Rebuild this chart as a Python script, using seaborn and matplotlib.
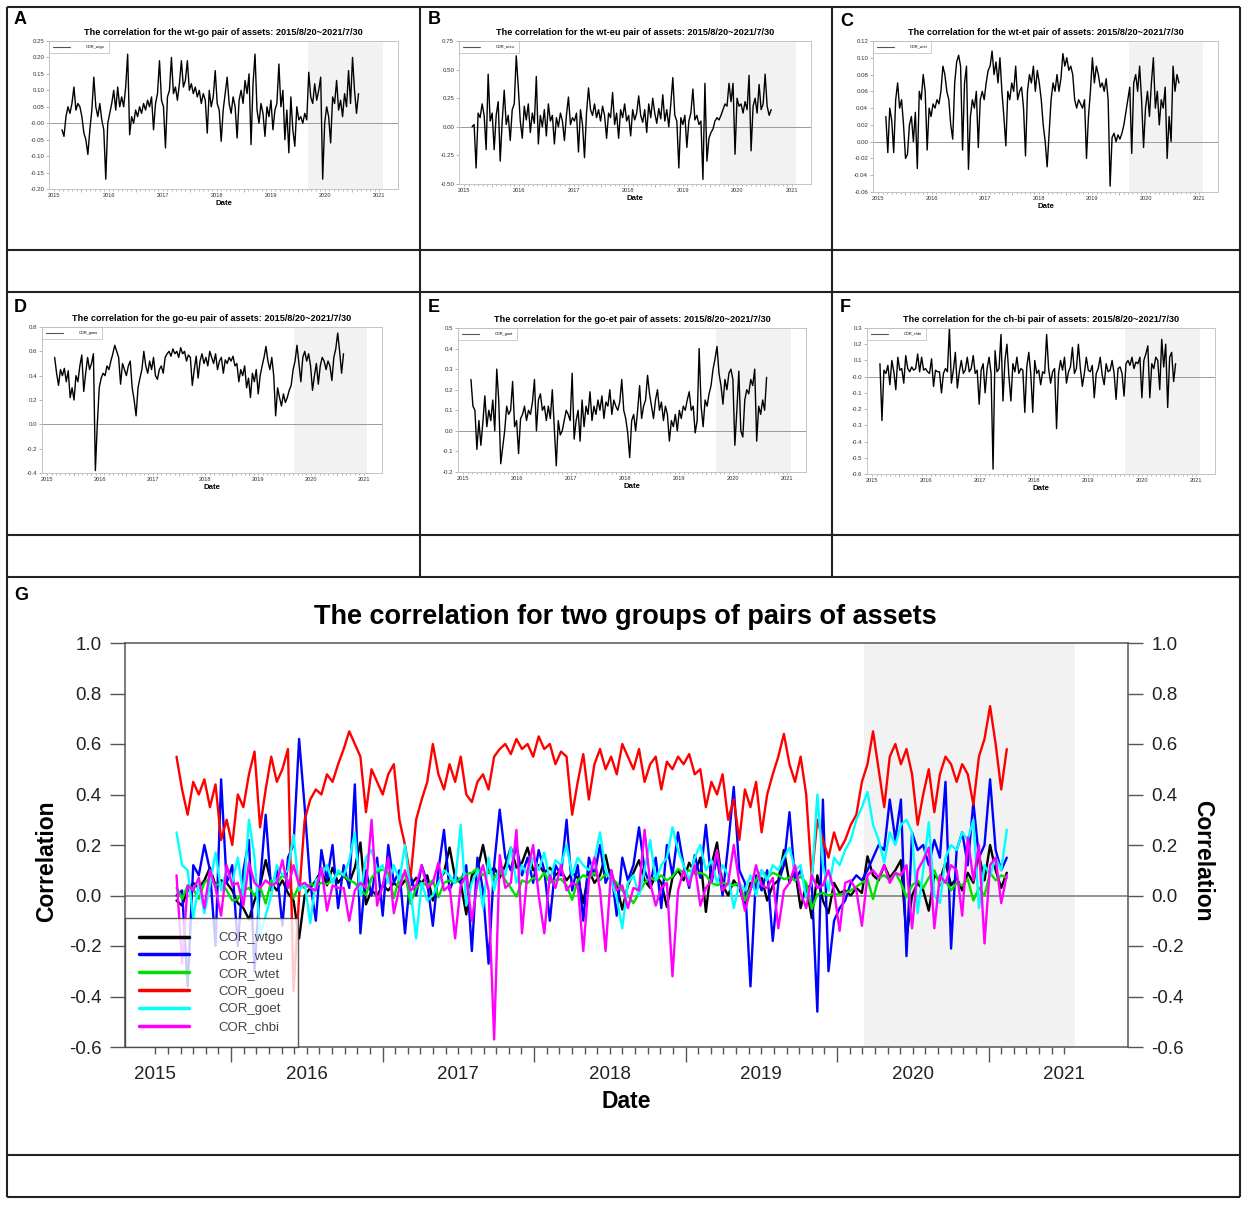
import numpy as np
import pandas as pd
import seaborn as sns
import matplotlib

matplotlib.use('Agg')

import matplotlib.pyplot as plt
from matplotlib.ticker import FormatStrFormatter

W, H = 1248, 1206

# positions are in the units of the printed year labels
first_date, last_date = 2015.14, 2020.62
shade_start, shade_end = 2019.68, 2021.07
year_labels = [2015, 2016, 2017, 2018, 2019, 2020, 2021]

cor_wtgo = [
    -0.02, -0.04, 0.02, 0.05, 0.03, 0.06, 0.11, 0.04, 0.06, 0.05,
    0.02, -0.03, -0.05, -0.095, -0.02, 0.04, 0.14, 0.05, 0.02, 0.06,
    0.01, -0.02, -0.17, 0.00, 0.03, 0.06, 0.10, 0.04, 0.11, 0.05,
    0.08, 0.05, 0.11, 0.21, -0.035, 0.02, 0.00, 0.04, 0.02, 0.05,
    0.03, 0.06, 0.04, 0.07, 0.05, 0.08, -0.02, 0.06, 0.09, 0.19,
    0.07, 0.05, -0.075, 0.08, 0.10, 0.20, 0.09, 0.11, 0.07, 0.12,
    0.19, 0.11, 0.13, 0.19, 0.10, 0.12, 0.09, 0.11, 0.08, 0.10,
    0.06, 0.09, 0.07, -0.03, 0.10, 0.05, 0.08, 0.16, 0.06, 0.04,
    -0.055, 0.04, 0.09, 0.14, 0.06, 0.03, 0.08, 0.05, -0.045, 0.07,
    0.10, 0.06, 0.13, 0.09, 0.15, -0.065, 0.12, 0.21, 0.04, 0.00,
    0.06, 0.03, -0.04, 0.05, 0.02, 0.07, -0.02, 0.04, 0.06, 0.18,
    0.05, 0.10, -0.05, 0.04, -0.09, 0.08, -0.02, -0.07, 0.05, 0.01,
    0.02, 0.00, 0.03, 0.01, 0.155, 0.08, 0.06, 0.12, 0.07, 0.10,
    0.14, -0.17, 0.00, 0.05, 0.02, -0.06, 0.08, 0.06, 0.13, 0.04,
    0.07, 0.02, 0.09, 0.05, 0.16, 0.06, 0.20, 0.10, 0.03, 0.09,
]

cor_wteu = [
    0.00, 0.02, -0.36, 0.12, 0.08, 0.20, 0.10, -0.20, 0.46, 0.05,
    0.12, -0.20, 0.10, 0.22, -0.30, 0.05, 0.32, 0.02, 0.10, -0.12,
    0.15, 0.20, 0.62, 0.35, 0.05, -0.10, 0.18, 0.06, 0.20, -0.05,
    0.12, 0.03, 0.44, -0.15, 0.10, 0.00, 0.15, -0.08, 0.20, 0.05,
    0.10, -0.15, 0.08, 0.00, 0.12, 0.05, -0.12, 0.10, 0.26, 0.02,
    0.08, 0.05, 0.12, -0.22, 0.15, 0.02, -0.27, 0.12, 0.34, 0.15,
    0.10, 0.20, 0.08, 0.15, 0.05, 0.18, 0.10, -0.10, 0.12, 0.08,
    0.30, 0.02, 0.12, -0.10, 0.15, 0.08, 0.20, 0.05, 0.10, -0.08,
    0.15, 0.06, 0.12, 0.27, 0.10, 0.04, 0.15, -0.05, 0.20, 0.08,
    0.25, 0.12, 0.03, 0.16, 0.07, 0.28, 0.05, 0.15, 0.00, 0.20,
    0.43, 0.10, 0.05, -0.36, 0.08, 0.02, 0.10, -0.18, 0.05, 0.12,
    0.33, 0.06, 0.10, 0.02, 0.05, -0.46, 0.38, -0.30, -0.10, -0.05,
    -0.02, 0.05, 0.08, 0.06, 0.10, 0.15, 0.20, 0.18, 0.38, 0.22,
    0.38, -0.24, 0.25, 0.18, 0.20, 0.12, 0.22, 0.15, 0.45, -0.21,
    0.18, 0.25, 0.12, 0.37, 0.15, 0.20, 0.46, 0.18, 0.10, 0.15,
]

cor_wtet = [
    0.03, -0.013, 0.04, 0.025, -0.013, 0.05, 0.07, 0.04, 0.05, 0.02,
    -0.02, -0.015, 0.02, 0.03, 0.00, 0.035, -0.032, 0.06, 0.05, 0.08,
    0.06, -0.01, 0.04, 0.03, 0.045, 0.04, 0.05, 0.045, 0.06, 0.09,
    0.08, 0.06, 0.05, 0.02, 0.003, 0.07, 0.095, 0.103, 0.09, -0.01,
    0.07, 0.09, -0.033, 0.03, 0.05, 0.04, 0.06, -0.007, 0.05, 0.06,
    0.05, 0.07, 0.085, 0.09, 0.108, 0.08, 0.095, 0.07, 0.10, 0.06,
    0.03, -0.005, 0.06, 0.05, 0.07, 0.06, 0.09, 0.05, 0.06, 0.065,
    0.04, -0.017, 0.06, 0.08, 0.07, 0.09, 0.06, 0.085, 0.07, 0.05,
    0.02, 0.00, -0.03, 0.01, 0.05, 0.07, 0.06, 0.08, 0.06, 0.075,
    0.105, 0.09, 0.10, 0.085, 0.09, 0.08, 0.05, 0.04, 0.05, 0.045,
    0.04, 0.05, -0.02, 0.03, 0.06, 0.10, 0.07, 0.09, 0.08, 0.065,
    0.07, 0.06, 0.075, 0.05, -0.053, 0.005, 0.01, 0.00, 0.008, 0.003,
    0.01, 0.02, 0.035, 0.05, 0.065, -0.014, 0.07, 0.08, 0.06, 0.09,
    0.05, -0.007, 0.04, 0.06, 0.03, 0.07, 0.10, 0.04, 0.06, 0.02,
    0.05, 0.04, 0.065, -0.02, 0.03, 0.00, 0.09, 0.06, 0.08, 0.07,
]

cor_goeu = [
    0.55, 0.42, 0.32, 0.45, 0.40, 0.46, 0.35, 0.44, 0.22, 0.30,
    0.20, 0.40, 0.35, 0.48, 0.57, 0.27, 0.42, 0.55, 0.45, 0.50,
    0.58, -0.38, 0.00, 0.30, 0.38, 0.42, 0.40, 0.48, 0.45, 0.52,
    0.58, 0.65, 0.60, 0.55, 0.33, 0.50, 0.45, 0.40, 0.48, 0.52,
    0.30, 0.20, 0.07, 0.30, 0.38, 0.45, 0.60, 0.48, 0.42, 0.52,
    0.45, 0.55, 0.40, 0.37, 0.45, 0.48, 0.42, 0.55, 0.58, 0.60,
    0.56, 0.62, 0.58, 0.60, 0.55, 0.63, 0.58, 0.60, 0.52, 0.57,
    0.55, 0.32, 0.45, 0.56, 0.38, 0.52, 0.58, 0.50, 0.55, 0.48,
    0.60, 0.55, 0.50, 0.58, 0.45, 0.52, 0.55, 0.42, 0.53, 0.50,
    0.55, 0.52, 0.56, 0.48, 0.50, 0.35, 0.45, 0.40, 0.48, 0.30,
    0.38, 0.22, 0.42, 0.35, 0.45, 0.25, 0.40, 0.48, 0.55, 0.64,
    0.52, 0.45, 0.55, 0.40, 0.07, 0.30, 0.22, 0.15, 0.25, 0.18,
    0.22, 0.28, 0.32, 0.45, 0.52, 0.65, 0.50, 0.35, 0.55, 0.60,
    0.52, 0.58, 0.48, 0.28, 0.40, 0.50, 0.33, 0.48, 0.55, 0.52,
    0.45, 0.52, 0.48, 0.36, 0.55, 0.62, 0.75, 0.60, 0.42, 0.58,
]

cor_goet = [
    0.25, 0.12, 0.10, -0.09, 0.05, -0.07, 0.04, 0.17, 0.02, 0.10,
    0.05, 0.15, 0.00, 0.30, 0.15, -0.16, -0.08, 0.00, 0.12, 0.08,
    0.10, 0.24, 0.02, 0.05, -0.11, 0.06, 0.08, 0.12, 0.05, 0.10,
    0.08, 0.14, 0.25, 0.00, 0.15, 0.18, 0.10, 0.12, 0.05, 0.12,
    0.06, 0.20, 0.02, -0.17, 0.05, -0.02, 0.00, 0.05, 0.10, 0.08,
    0.05, 0.28, -0.04, 0.05, 0.10, -0.05, 0.15, 0.02, 0.12, 0.08,
    0.19, 0.05, 0.12, 0.08, 0.15, 0.10, 0.17, 0.06, 0.14, 0.12,
    0.20, 0.08, 0.15, 0.12, 0.10, 0.14, 0.25, 0.10, 0.06, -0.01,
    -0.13, 0.05, 0.08, 0.00, 0.10, 0.22, 0.06, 0.12, 0.15, 0.27,
    0.18, 0.12, 0.06, 0.15, 0.20, 0.10, 0.14, 0.05, 0.12, 0.08,
    -0.05, 0.05, 0.02, 0.08, 0.00, 0.10, 0.06, 0.12, 0.10, 0.15,
    0.19, 0.10, 0.12, -0.01, 0.05, 0.40, 0.12, 0.02, 0.15, 0.12,
    0.18, 0.22, 0.30, 0.35, 0.41, 0.28, 0.22, 0.13, 0.25, 0.20,
    0.28, 0.30, 0.25, -0.07, 0.10, 0.29, 0.00, -0.03, 0.15, 0.20,
    0.18, 0.25, 0.22, 0.30, -0.05, 0.12, 0.08, 0.15, 0.10, 0.26,
]

cor_chbi = [
    0.08, -0.27, 0.04, 0.02, 0.07, -0.05, 0.10, 0.03, -0.08, 0.12,
    0.04, 0.05, -0.04, 0.13, 0.05, 0.03, 0.06, 0.04, 0.05, 0.14,
    0.03, 0.12, 0.04, 0.05, 0.03, 0.02, 0.11, -0.06, 0.04, 0.03,
    0.03, -0.10, 0.02, 0.05, 0.03, 0.30, -0.04, 0.04, 0.15, -0.07,
    0.03, 0.10, 0.02, 0.04, 0.12, 0.03, 0.05, 0.13, 0.02, 0.04,
    -0.17, 0.04, 0.08, -0.10, 0.05, 0.12, 0.02, -0.57, 0.16, 0.03,
    0.05, 0.26, -0.15, 0.10, 0.20, 0.00, -0.15, 0.08, 0.03, 0.12,
    0.02, 0.05, 0.04, -0.22, 0.06, 0.15, 0.02, -0.22, 0.10, 0.02,
    0.04, -0.05, 0.03, 0.02, 0.26, 0.05, -0.04, 0.03, 0.05, -0.32,
    0.02, 0.10, 0.04, 0.12, -0.04, 0.03, 0.06, 0.18, 0.02, 0.05,
    0.20, 0.05, -0.06, 0.02, 0.12, 0.04, 0.03, 0.07, -0.13, 0.02,
    0.05, 0.12, 0.01, -0.05, 0.08, 0.03, 0.04, 0.10, 0.02, -0.14,
    0.05, 0.06, 0.02, -0.12, 0.08, 0.10, 0.07, 0.12, 0.05, 0.09,
    0.08, 0.12, -0.13, 0.10, 0.14, 0.19, -0.13, 0.08, 0.05, 0.12,
    0.10, -0.08, 0.23, 0.06, 0.20, -0.19, 0.12, 0.15, -0.03, 0.08,
]

series_names = ['COR_wtgo', 'COR_wteu', 'COR_wtet', 'COR_goeu', 'COR_goet', 'COR_chbi']
series_values = [cor_wtgo, cor_wteu, cor_wtet, cor_goeu, cor_goet, cor_chbi]
series_colors = ['#000000', '#0000ff', '#00e000', '#ff0000', '#00ffff', '#ff00ff']
pair_names = ['wt-go', 'wt-eu', 'wt-et', 'go-eu', 'go-et', 'ch-bi']
panel_letters = ['A', 'B', 'C', 'D', 'E', 'F']

small_ylims = [(-0.20, 0.25), (-0.50, 0.75), (-0.06, 0.12), (-0.4, 0.8), (-0.2, 0.5), (-0.6, 0.3)]
small_ysteps = [0.05, 0.25, 0.02, 0.2, 0.1, 0.1]
small_yfmt = ['%.2f', '%.2f', '%.2f', '%.1f', '%.1f', '%.1f']
main_ylim = (-0.6, 1.0)

df = pd.DataFrame(dict(zip(series_names, series_values)))
df['Date'] = np.linspace(first_date, last_date, len(df))


def px_rect(left, top, right, bottom):
    return [left / W, 1 - bottom / H, (right - left) / W, (bottom - top) / H]


def date_axis(ax, xlim, size, major_len, minor_len, pad, color, lw):
    ax.set_xlim(*xlim)
    ax.set_xticks(np.arange(2015.5, 2021, 1.0))
    ax.set_xticklabels([])
    ax.set_xticks(np.arange(2015, 2021.05, 1 / 12), minor=True)
    ax.tick_params(axis='x', which='major', bottom=True, length=major_len, width=lw,
                   color=color, direction='out')
    ax.tick_params(axis='x', which='minor', bottom=True, length=minor_len, width=lw,
                   color=color, direction='out')
    sec = ax.secondary_xaxis('bottom')
    sec.set_xticks(year_labels)
    sec.tick_params(length=0, labelsize=size, pad=pad)
    sec.spines['bottom'].set_visible(False)
    return sec


sns.set_theme(style='white', rc={'text.color': 'black', 'axes.labelcolor': 'black'})
plt.rcParams['font.family'] = ['Liberation Sans', 'DejaVu Sans']

fig = plt.figure(figsize=(W / 100, H / 100), dpi=100)

# table grid behind the panels
bg = fig.add_axes([0, 0, 1, 1], zorder=-1)
bg.set_xlim(0, W)
bg.set_ylim(H, 0)
bg.axis('off')
bg.hlines([7, 250, 292, 535, 577, 1155, 1197], 7, 1240, color='#222222', lw=1.5)
bg.vlines([7, 1240], 7, 1197, color='#222222', lw=1.5)
bg.vlines([420, 832], 7, 577, color='#222222', lw=1.5)

small_boxes = [(49, 41, 398, 189), (459, 41, 811, 184), (873, 41, 1218, 192),
               (42, 327, 382, 473), (458, 328, 806, 472), (867, 328, 1215, 474)]
letter_pos = [(14, 19), (428, 19), (840, 21), (14, 307), (428, 307), (840, 307)]

for i, name in enumerate(series_names):
    ax = fig.add_axes(px_rect(*small_boxes[i]))
    ax.axvspan(shade_start, shade_end, color='#f2f2f2', lw=0, zorder=0)
    ax.axhline(0, color='#9a9a9a', lw=0.7, zorder=1)
    sns.lineplot(data=df, x='Date', y=name, ax=ax, color='black', lw=1.0,
                 estimator=None, label=name)
    lo, hi = small_ylims[i]
    ax.set_ylim(lo, hi)
    ax.set_yticks(np.arange(lo, hi + small_ysteps[i] / 2, small_ysteps[i]))
    ax.yaxis.set_major_formatter(FormatStrFormatter(small_yfmt[i]))
    ax.tick_params(axis='y', left=True, length=2, width=0.5, color='#999999',
                   labelsize=4.4, pad=1.5, labelcolor='#333333')
    ax.set_ylabel('')
    ax.set_xlabel('')
    for sp in ax.spines.values():
        sp.set_color('#c4c4c4')
        sp.set_linewidth(0.7)
    sec = date_axis(ax, (2014.9, 2021.35), 4.1, 2.5, 1.5, 3, '#999999', 0.5)
    sec.tick_params(labelcolor='#333333')
    sec.set_xlabel('Date', fontsize=5.6, fontweight='bold', labelpad=1.5)
    ax.set_title(f'The correlation for the {pair_names[i]} pair of assets: 2015/8/20~2021/7/30',
                 fontsize=6.6, fontweight='bold', pad=4)
    leg = ax.legend(loc='upper left', borderaxespad=0, fontsize=2.8, frameon=True,
                    fancybox=False, edgecolor='#b5b5b5', handlelength=4.5,
                    handletextpad=4, borderpad=1.0)
    leg.get_frame().set_linewidth(0.6)
    for line in leg.get_lines():
        line.set_color('#555555')
        line.set_linewidth(0.8)
    fig.text(letter_pos[i][0] / W, 1 - letter_pos[i][1] / H, panel_letters[i],
             fontsize=13, fontweight='bold', va='center')

# panel G: all six series together
axg = fig.add_axes(px_rect(125, 643, 1128, 1047))
axg.axvspan(shade_start, shade_end, color='#f2f2f2', lw=0, zorder=0)
axg.axhline(0, color='#808080', lw=1.2, zorder=1)
for name, color in zip(series_names, series_colors):
    sns.lineplot(data=df, x='Date', y=name, ax=axg, color=color, lw=1.7,
                 estimator=None, label=name)
axg.set_ylim(*main_ylim)
axg.set_yticks(np.arange(-0.6, 1.01, 0.2))
axg.yaxis.set_major_formatter(FormatStrFormatter('%.1f'))
axg.tick_params(axis='y', left=True, right=True, labelright=True, length=11, width=1,
                color='#555555', labelsize=13.5, pad=6, labelcolor='#222222')
axg.set_ylabel('')
axg.set_xlabel('')
for sp in axg.spines.values():
    sp.set_color('#555555')
    sp.set_linewidth(1.1)
secg = date_axis(axg, (2014.8, 2021.42), 13.5, 11, 5, 14, '#555555', 1)
secg.tick_params(labelcolor='#222222')

leg = axg.legend(loc='lower left', borderaxespad=0, fontsize=9.5, frameon=True,
                 fancybox=False, edgecolor='#333333', handlelength=3.8,
                 handletextpad=2.2, borderpad=1.05, labelspacing=0.42)
leg.get_frame().set_linewidth(1.0)
for text in leg.get_texts():
    text.set_color('#444444')
for line in leg.get_lines():
    line.set_linewidth(2.5)

fig.text(625 / W, 1 - 617 / H, 'The correlation for two groups of pairs of assets',
         fontsize=19.5, fontweight='bold', ha='center', va='center')
fig.text(626 / W, 1 - 1102 / H, 'Date', fontsize=16.5, fontweight='bold',
         ha='center', va='center')
fig.text(47 / W, 1 - 861 / H, 'Correlation', fontsize=16.5, fontweight='bold',
         ha='center', va='center', rotation=90)
fig.text(1203 / W, 1 - 861 / H, 'Correlation', fontsize=16.5, fontweight='bold',
         ha='center', va='center', rotation=270)
fig.text(14 / W, 1 - 595 / H, 'G', fontsize=13, fontweight='bold', va='center')

fig.savefig('out.png', dpi=100, facecolor='white')
